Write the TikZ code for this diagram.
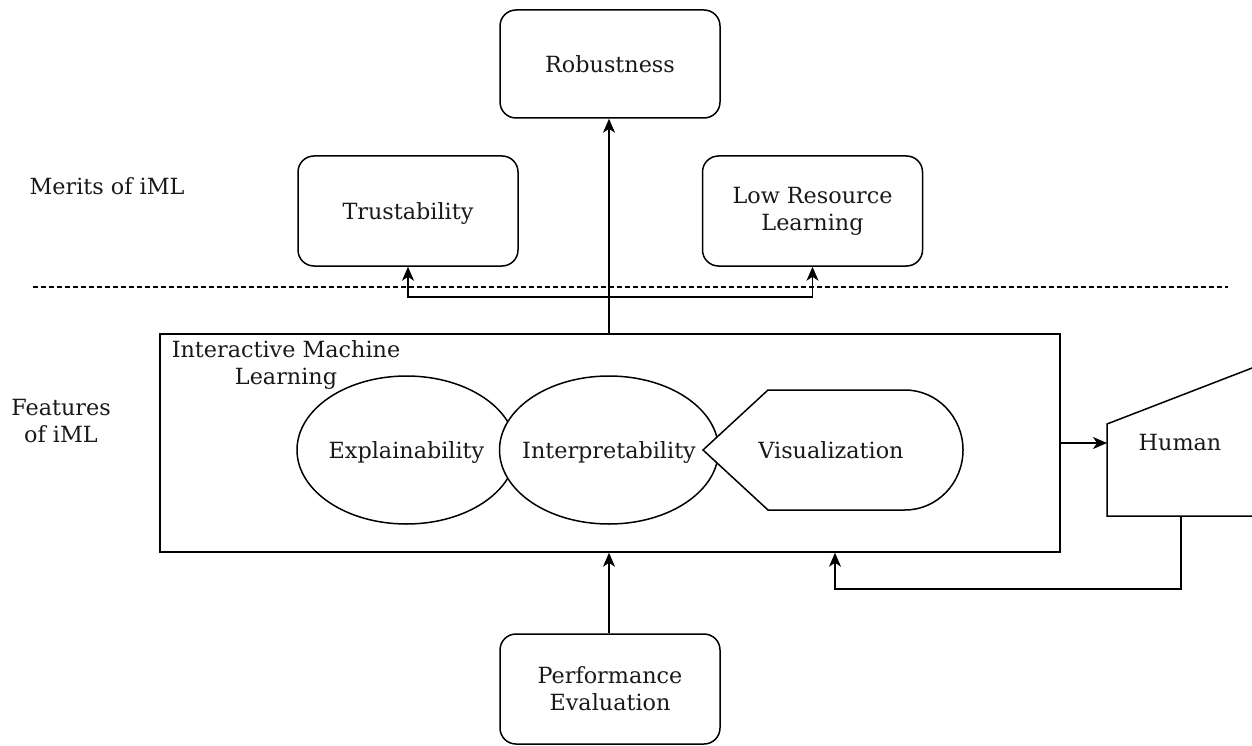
\documentclass[tikz,border=0pt]{standalone}
\usepackage{fontspec}
\setmainfont{DejaVu Serif}
\usetikzlibrary{arrows.meta,shapes.geometric}
\begin{document}
\begin{tikzpicture}[x=1pt,y=-1pt,
  every node/.style={font=\fontsize{22.3}{26.7}\selectfont, text=black!90},
  arr/.style={line width=1.5pt, -{Stealth[length=14pt,width=12pt,inset=4pt]}},
  rbox/.style={draw, line width=1.5pt, rounded corners=16pt, minimum width=220pt, minimum height=108pt, align=center, inner sep=0pt},
  oval/.style={draw, line width=1.5pt, fill=white, ellipse, minimum width=219pt, minimum height=148pt, inner sep=0pt},
  lbl/.style={align=center, inner sep=0pt}
]
\useasboundingbox (0,0) rectangle (1252,746);

% boxes
\node[rbox] (rob) at (610,64) {Robustness};
\node[rbox, minimum height=110pt] (trust) at (408,211) {};
\node[lbl] at ([yshift=-2.5pt]trust.center) {Trustability};
\node[rbox, minimum height=110pt] (low) at (812.5,211) {Low Resource\\Learning};
\node[rbox, minimum height=110pt] (perf) at (610,689) {Performance\\Evaluation};

% side labels
\node[lbl] (merits) at (107,186) {Merits of iML};
\node[lbl] (feat) at (61,421) {Features\\of iML};

% dashed separator
\coordinate (dl) at (33,287);
\coordinate (dr) at (1228,287);
\draw[line width=1.2pt, dash pattern=on 4.5pt off 3.5pt] (dl) -- (dr);

% big frame
\node[draw, line width=1.5pt, minimum width=900pt, minimum height=218pt, inner sep=0pt] (iml) at (610,443) {};
\node[lbl] (imltxt) at (286,365) {Interactive Machine\\Learning};

% ellipses
\node[oval] (expl) at (406.5,450) {};
\node[lbl] at ([yshift=-2.5pt]expl.center) {Explainability};
\node[oval] (interp) at (609,450) {};
\node[lbl] at ([yshift=-2.5pt]interp.center) {Interpretability};

% visualization (display shape)
\draw[line width=1.5pt, fill=white] (703,450) -- (768,390) -- (905,390)
  .. controls (937,390) and (963,417) .. (963,450)
  .. controls (963,483) and (937,510) .. (905,510) -- (768,510) -- cycle;
\node[lbl] (vis) at (831,450) {Visualization};

% human (manual input shape, cut by the page edge)
\begin{scope}
\clip (0,0) rectangle (1252,746);
\draw[line width=1.5pt, fill=white] (1300,516) -- (1107,516) -- (1107,424) -- (1300,349.5);
\end{scope}
\coordinate (hl) at (1107,443);
\coordinate (hb) at (1181,516);
\node[lbl] (human) at (1180,443) {Human};

% connectors
\coordinate (split) at (609,297);
\draw[arr] (iml.north -| split) -- (rob.south -| split);
\draw[arr] (split) -| (trust.south);
\draw[arr] (split) -| (low.south);
\draw[arr] (perf.north -| split) -- (iml.south -| split);
\draw[arr] (iml.east |- hl) -- (hl);
\coordinate (fb) at (835,589);
\draw[arr] (hb) |- (fb) -- (fb |- iml.south);
\end{tikzpicture}
\end{document}
